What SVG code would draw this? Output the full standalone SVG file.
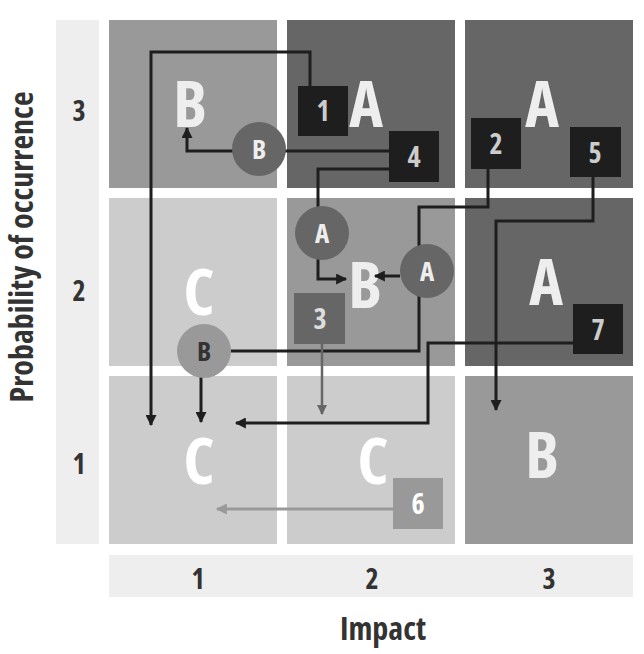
<svg xmlns="http://www.w3.org/2000/svg" width="644" height="654" viewBox="0 0 644 654">
<defs>
<style>
text{font-family:"Open Sans","Liberation Sans Narrow","DejaVu Sans Condensed",sans-serif;font-weight:700;font-stretch:condensed;text-anchor:middle}
.band{fill:#eeeeee}
.axn{font-size:28px;fill:#333333}
.axt{font-size:32px;fill:#333333}
.big{font-size:64px;fill:#eeeeee}
.bigw{font-size:64px;fill:#ffffff}
.dk{fill:#666666}
.md{fill:#999999}
.lt{fill:#cccccc}
.box{fill:#1e1e1e}
.bl{font-size:28px;fill:#cccccc}
.cl{font-size:27px;fill:#eeeeee}
.ln{fill:none;stroke:#1e1e1e;stroke-width:3}
</style>
<marker id="ah" viewBox="0 0 10 10" refX="9" refY="5" markerWidth="15" markerHeight="11" markerUnits="userSpaceOnUse" orient="auto"><path d="M0,0 L10,5 L0,10 z" fill="#1e1e1e"/></marker>
<marker id="ahg" viewBox="0 0 10 10" refX="9" refY="5" markerWidth="14" markerHeight="10" markerUnits="userSpaceOnUse" orient="auto"><path d="M0,0 L10,5 L0,10 z" fill="#666666"/></marker>
<marker id="ahl" viewBox="0 0 10 10" refX="9" refY="5" markerWidth="15" markerHeight="11" markerUnits="userSpaceOnUse" orient="auto"><path d="M0,0 L10,5 L0,10 z" fill="#999999"/></marker>
</defs>
<rect width="644" height="654" fill="#ffffff"/>
<g id="axes">
<rect class="band" x="56" y="20" width="43" height="524"/>
<rect class="band" x="109" y="555" width="524" height="42"/>
<text class="axn" x="79" y="121">3</text>
<text class="axn" x="79" y="301">2</text>
<text class="axn" x="79" y="474">1</text>
<text class="axn" x="198" y="589">1</text>
<text class="axn" x="372" y="589">2</text>
<text class="axn" x="549" y="589">3</text>
<text class="axt" x="383" y="640">Impact</text>
<text class="axt" transform="translate(33,247) rotate(-90)">Probability of occurrence</text>
</g>
<g id="cell-1-3"><rect class="md" x="109" y="20" width="168" height="168"/><text class="big" x="190" y="127">B</text></g>
<g id="cell-2-3"><rect class="dk" x="287" y="20" width="168" height="168"/><text class="big" x="366" y="127">A</text></g>
<g id="cell-3-3"><rect class="dk" x="465" y="20" width="168" height="168"/><text class="big" x="542" y="127">A</text></g>
<g id="cell-1-2"><rect class="lt" x="109" y="198" width="168" height="168"/><text class="bigw" x="199" y="315">C</text></g>
<g id="cell-2-2"><rect class="md" x="287" y="198" width="168" height="168"/><text class="big" x="365" y="308">B</text></g>
<g id="cell-3-2"><rect class="dk" x="465" y="198" width="168" height="168"/><text class="big" x="546" y="305">A</text></g>
<g id="cell-1-1"><rect class="lt" x="109" y="376" width="168" height="168"/><text class="bigw" x="199" y="484">C</text></g>
<g id="cell-2-1"><rect class="lt" x="287" y="376" width="168" height="168"/><text class="bigw" x="373" y="484">C</text></g>
<g id="cell-3-1"><rect class="md" x="465" y="376" width="168" height="168"/><text class="big" x="542" y="478">B</text></g>
<g id="connectors">
<path class="ln" d="M310 86 V52 H151 V425" marker-end="url(#ah)"/>
<path class="ln" d="M389 151 H187 V128" marker-end="url(#ah)"/>
<path class="ln" d="M389 169 H318 V279 H346" marker-end="url(#ah)"/>
<path class="ln" d="M488 169 V207 H419 V351 H231"/>
<path class="ln" d="M400 276 H375" marker-end="url(#ah)"/>
<path class="ln" d="M201 377 V422" marker-end="url(#ah)"/>
<path class="ln" d="M593 177 V221 H496 V410" marker-end="url(#ah)"/>
<path class="ln" d="M573 343 H428 V423 H236" marker-end="url(#ah)"/>
<path d="M322 344 V414" fill="none" stroke="#666666" stroke-width="2.5" marker-end="url(#ahg)"/>
<path d="M393 509 H217" fill="none" stroke="#999999" stroke-width="3" marker-end="url(#ahl)"/>
</g>
<g id="risk-1"><rect class="box" x="298" y="86" width="50" height="50"/><text class="bl" x="323" y="121">1</text></g>
<g id="risk-2"><rect class="box" x="471" y="118" width="50" height="51"/><text class="bl" x="496" y="154">2</text></g>
<g id="risk-4"><rect class="box" x="389" y="131" width="50" height="51"/><text class="bl" x="414" y="167">4</text></g>
<g id="risk-5"><rect class="box" x="570" y="127" width="51" height="50"/><text class="bl" x="595" y="163">5</text></g>
<g id="risk-7"><rect class="box" x="573" y="304" width="50" height="50"/><text class="bl" x="598" y="340">7</text></g>
<g id="risk-3"><rect fill="#666666" x="294" y="293" width="51" height="51"/><text class="bl" x="320" y="329" style="fill:#dddddd">3</text></g>
<g id="risk-6"><rect fill="#999999" x="393" y="478" width="50" height="51"/><text class="bl" x="418" y="514" style="fill:#ffffff">6</text></g>
<g id="circle-b1"><circle class="dk" cx="259" cy="149" r="27"/><text class="cl" x="259" y="159">B</text></g>
<g id="circle-a1"><circle class="dk" cx="322" cy="233" r="27"/><text class="cl" x="322" y="243">A</text></g>
<g id="circle-a2"><circle class="dk" cx="427" cy="271" r="27"/><text class="cl" x="427" y="281">A</text></g>
<g id="circle-b2"><circle class="md" cx="204" cy="351" r="27"/><text class="cl" x="204" y="361" style="fill:#333333">B</text></g>
</svg>
